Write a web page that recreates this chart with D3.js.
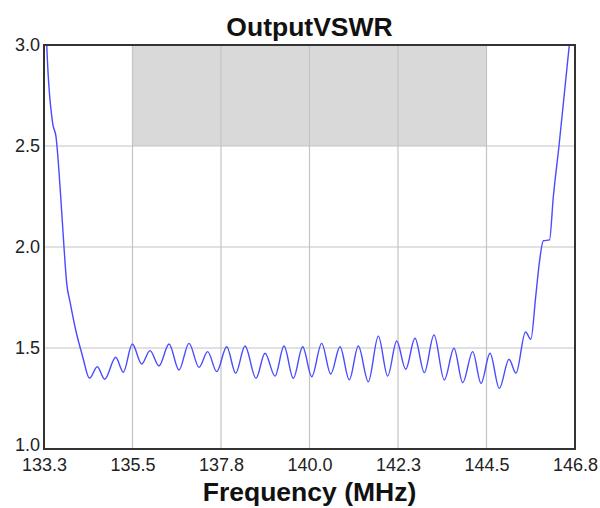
<!DOCTYPE html>
<html>
<head>
<meta charset="utf-8">
<script src="https://cdn.jsdelivr.net/npm/d3@7"></script>
<style>
  html, body { margin: 0; padding: 0; background: #fff; }
  svg { display: block; font-family: "Liberation Sans", Arial, sans-serif; }
</style>
</head>
<body>
<svg id="chart" width="600" height="508"></svg>
<script>
// ---- data ----
const title = "OutputVSWR";
const xLabel = "Frequency (MHz)";
const xDomain = [133.25, 146.75];
const yDomain = [1.0, 3.0];
const xTicks = [133.25, 135.5, 137.75, 140.0, 142.25, 144.5, 146.75];
const xTickLabels = ["133.3", "135.5", "137.8", "140.0", "142.3", "144.5", "146.8"];
const yTicks = [1.0, 1.5, 2.0, 2.5, 3.0];
const yTickLabels = ["1.0", "1.5", "2.0", "2.5", "3.0"];
const specBand = { x0: 135.5, x1: 144.5, y0: 2.5, y1: 3.0 };

const freq = [133.29, 133.32, 133.471, 133.555, 133.675, 133.758, 133.827, 133.911, 134.056, 134.234,
  134.407, 134.605, 134.793, 135.073, 135.266, 135.495, 135.734, 135.945, 136.174, 136.428,
  136.682, 136.937, 137.191, 137.412, 137.641, 137.895, 138.124, 138.360, 138.640, 138.869,
  139.123, 139.352, 139.588, 139.827, 140.056, 140.310, 140.539, 140.776, 141.012, 141.241,
  141.495, 141.750, 141.988, 142.217, 142.446, 142.682, 142.919, 143.165, 143.427, 143.674,
  143.895, 144.149, 144.360, 144.589, 144.826, 145.072, 145.250, 145.492, 145.627, 145.751,
  145.843, 145.944, 146.102, 146.199, 146.343, 146.605, 146.66];
const vswr = [3.25, 3.0, 2.612, 2.546, 2.249, 2.0, 1.820, 1.729, 1.589, 1.457,
  1.350, 1.407, 1.345, 1.454, 1.380, 1.520, 1.421, 1.487, 1.411, 1.520,
  1.391, 1.523, 1.404, 1.482, 1.383, 1.506, 1.375, 1.510, 1.350, 1.474,
  1.361, 1.510, 1.350, 1.506, 1.358, 1.523, 1.371, 1.506, 1.342, 1.510,
  1.333, 1.559, 1.361, 1.535, 1.395, 1.548, 1.378, 1.564, 1.342, 1.499,
  1.328, 1.482, 1.325, 1.474, 1.300, 1.444, 1.376, 1.579, 1.543, 1.754,
  1.921, 2.031, 2.035, 2.249, 2.5, 3.0, 3.1];

// ---- layout ----
const svg = d3.select("#chart");
const W = 600, H = 508;
const m = { left: 44, top: 45, right: 25, bottom: 59 };
const iw = W - m.left - m.right, ih = H - m.top - m.bottom;

const x = d3.scaleLinear().domain(xDomain).range([m.left, m.left + iw]);
const y = d3.scaleLinear().domain(yDomain).range([m.top + ih, m.top]);

svg.append("defs").append("clipPath").attr("id", "clip")
  .append("rect").attr("x", m.left).attr("y", m.top).attr("width", iw).attr("height", ih);

// spec band
svg.append("rect")
  .attr("x", x(specBand.x0)).attr("y", y(specBand.y1))
  .attr("width", x(specBand.x1) - x(specBand.x0))
  .attr("height", y(specBand.y0) - y(specBand.y1))
  .attr("fill", "#d9d9d9");

// grid
const grid = svg.append("g").attr("stroke", "#c4c4c4").attr("stroke-width", 1.2);
grid.selectAll("line.v").data(xTicks.slice(1, -1)).join("line")
  .attr("x1", d => x(d)).attr("x2", d => x(d))
  .attr("y1", m.top).attr("y2", m.top + ih);
grid.selectAll("line.h").data(yTicks.slice(1, -1)).join("line")
  .attr("y1", d => y(d)).attr("y2", d => y(d))
  .attr("x1", m.left).attr("x2", m.left + iw);

// curve
const pts = freq.map((f, i) => [f, vswr[i]]);
const line = d3.line().x(d => x(d[0])).y(d => y(d[1])).curve(d3.curveMonotoneX);
svg.append("path").datum(pts)
  .attr("clip-path", "url(#clip)")
  .attr("d", line)
  .attr("fill", "none")
  .attr("stroke", "#4a4aff")
  .attr("stroke-width", 1.4);

// frame
svg.append("rect")
  .attr("x", m.left).attr("y", m.top).attr("width", iw).attr("height", ih)
  .attr("fill", "none").attr("stroke", "#333").attr("stroke-width", 2);

// axes (labels only)
const xAxis = d3.axisBottom(x).tickValues(xTicks)
  .tickFormat((d, i) => xTickLabels[i]).tickSize(0).tickPadding(9);
const gx = svg.append("g").attr("transform", `translate(0,${m.top + ih})`).call(xAxis);
gx.select(".domain").remove();
gx.selectAll("text").attr("font-size", 18).attr("fill", "#222")
  .attr("font-family", "Liberation Sans, Arial, sans-serif");

const yAxis = d3.axisLeft(y).tickValues(yTicks)
  .tickFormat((d, i) => yTickLabels[i]).tickSize(0).tickPadding(4);
const gy = svg.append("g").attr("transform", `translate(${m.left},0)`).call(yAxis);
gy.select(".domain").remove();
gy.selectAll("text").attr("font-size", 18).attr("fill", "#222")
  .attr("font-family", "Liberation Sans, Arial, sans-serif")
  .attr("dy", (d, i) => i === 0 ? "0.1em" : "0.32em");

// title & x label
svg.append("text").attr("x", m.left + iw / 2).attr("y", 36)
  .attr("text-anchor", "middle").attr("font-size", 26.5).attr("font-weight", "bold")
  .attr("fill", "#111").text(title);
svg.append("text").attr("x", m.left + iw / 2).attr("y", 501)
  .attr("text-anchor", "middle").attr("font-size", 26.5).attr("font-weight", "bold")
  .attr("fill", "#111").text(xLabel);
</script>
</body>
</html>
